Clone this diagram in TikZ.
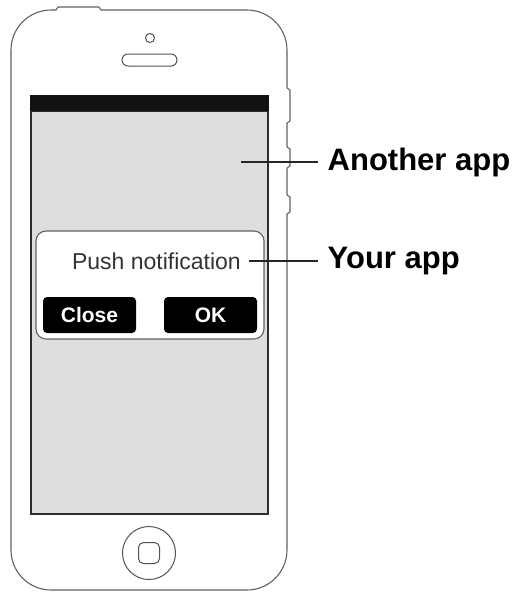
\documentclass[tikz,border=0pt]{standalone}
\usepackage{fontspec}
\setmainfont{Liberation Sans}
\begin{document}
\begin{tikzpicture}[x=1pt,y=-1pt,
  body/.style={draw=black!62,line width=1.1pt},
  detail/.style={draw=black!68,line width=1pt},
  leader/.style={draw=black!85,line width=1.3pt},
  btn/.style={fill=black,rounded corners=4pt,text=white,font=\fontsize{21}{24}\selectfont\bfseries,
              minimum width=93pt,minimum height=36pt,inner sep=0pt},
  callout/.style={anchor=west,inner xsep=9.5pt,inner ysep=0pt,font=\fontsize{31}{36}\selectfont\bfseries}]
\useasboundingbox (0,0) rectangle (517,592);

% phone body with the top bump and the side keys
\path[body] (11,50) .. controls (11,28) and (29,10) .. (51,10) -- (56,10) -- (58,7) -- (99,7) -- (101,10)
  -- (247,10) .. controls (269,10) and (287,28) .. (287,50)
  -- (287,88) -- (290,90) -- (290,121) -- (287,123)
  -- (287,147) -- (290,149) -- (290,166) -- (287,168)
  -- (287,195) -- (290,197) -- (290,212) -- (287,214)
  -- (287,550) .. controls (287,572) and (269,590) .. (247,590)
  -- (51,590) .. controls (29,590) and (11,572) .. (11,550) -- cycle;

% camera and speaker
\node[detail,circle,minimum size=9pt,inner sep=0pt] (camera) at (150,38) {};
\node[detail,rounded corners=6pt,minimum width=55pt,minimum height=12pt,inner sep=0pt] (speaker) at (149.5,60) {};

% screen
\path[fill=black!13,draw=black!82,line width=2pt] (31,111) rectangle (268,514);
\path[fill=black!93] (30,94.5) rectangle (269,111);

% notification dialog
\path[fill=white,draw=black!62,line width=1.1pt,rounded corners=10pt] (36,231) rectangle (264,339);
\node[anchor=east,inner xsep=8pt,inner ysep=0pt,text=black!80,font=\fontsize{23}{27}\selectfont] (push) at (249,261) {Push notification};
\node[btn] (close) at (89.5,315) {Close};
\node[btn] (ok) at (210.5,315) {OK};

% home button
\node[detail,circle,minimum size=53pt,inner sep=0pt] (home) at (149,553) {};
\node[detail,rounded corners=5pt,minimum size=21pt,inner sep=0pt] (homekey) at (149,553) {};

% callouts
\coordinate (screenpt) at (241,162);
\node[callout] (another) at (318,162) {Another app};
\node[callout] (yours) at (318,261) {Your app};
\draw[leader] (screenpt) -- (another.west);
\draw[leader] (push.east) -- (yours.west);
\end{tikzpicture}
\end{document}
